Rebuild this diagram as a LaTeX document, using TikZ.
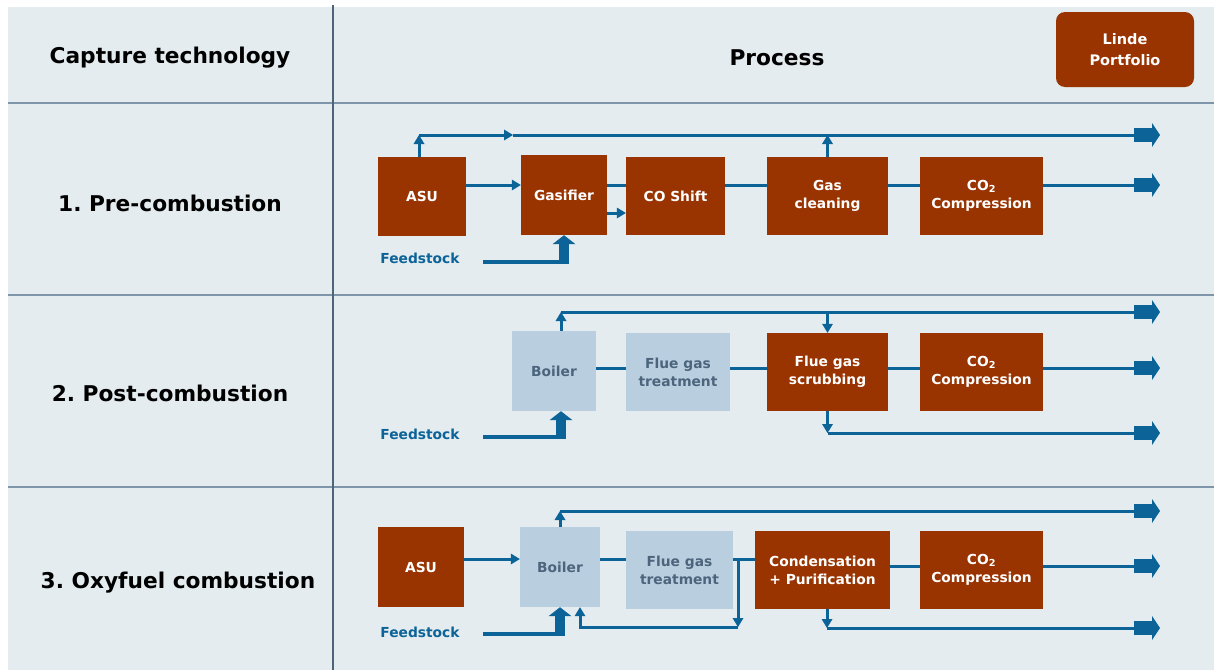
\documentclass[tikz,border=0pt]{standalone}
\usepackage{fontspec}
\setmainfont{DejaVu Sans}
\usetikzlibrary{arrows.meta}
\definecolor{rust}{HTML}{993300}
\definecolor{pale}{HTML}{B9CFE0}
\definecolor{panel}{HTML}{E4ECEF}
\definecolor{flowblue}{HTML}{0B6398}
\definecolor{rulecol}{HTML}{7F95A9}
\definecolor{slate}{HTML}{4D657C}
\frenchspacing

\begin{document}
\begin{tikzpicture}[
    x=1pt,
    y=-1pt,
    >={Triangle[length=9pt,width=11pt,line width=0pt]},
    box/.style={fill=rust,text=white,inner sep=0pt,align=center,
        font=\fontsize{13.8}{18}\selectfont\bfseries},
    lbox/.style={box,fill=pale,text=slate},
    head/.style={font=\fontsize{21.7}{26}\selectfont\bfseries},
    stock/.style={text=flowblue,font=\fontsize{13.8}{17}\selectfont\bfseries},
    flow/.style={draw=flowblue,line width=3pt},
    feed/.style={draw=flowblue,line width=3.8pt},
    feedup/.style={draw=flowblue,line width=10pt,
        -{Triangle[length=9pt,width=23pt,line width=0pt]}},
    fat/.style={-{Rectangle[length=18pt,width=14pt,sep=0pt,line width=0pt]
        Triangle[length=8pt,width=24pt,line width=0pt]}},
    rule/.style={draw=rulecol,line width=2pt}
]
% table
\useasboundingbox (0,0) rectangle (1214,670);
\fill[panel] (8,7) rectangle (1214,670);
\draw[rule] (8,103) -- (1214,103);
\draw[rule] (8,295) -- (1214,295);
\draw[rule] (8,487) -- (1214,487);
\draw[draw=slate,line width=1.8pt] (333,5) -- (333,670);

\node[head] (cap) at (170,58) {Capture technology};
\node[head] (proc) at (777,58) {Process};
\node[box,rounded corners=9pt,minimum width=138pt,minimum height=75pt,
    font=\fontsize{14.5}{21}\selectfont\bfseries] (L) at (1125,49.5) {Linde\\Portfolio};

\node[head] (r1) at (170,203) {1. Pre-combustion};
\node[head] (r2) at (170,393) {2. Post-combustion};
\node[head] (r3) at (178,583) {3. Oxyfuel combustion};

% row 1
\node[box,minimum width=88pt,minimum height=79pt] (A1) at (422,196.5) {ASU};
\node[box,minimum width=86pt,minimum height=80pt] (G1) at (564,195) {Gasifier};
\node[box,minimum width=99pt,minimum height=78pt] (S1) at (675.5,196) {CO Shift};
\node[box,minimum width=121pt,minimum height=78pt] (K1) at (827.5,196) {Gas\\cleaning};
\node[box,minimum width=123pt,minimum height=78pt] (C1) at (981.5,196) {CO\textsubscript{2}\\Compression};
\node[stock] (F1) at (420,258) {Feedstock};

\coordinate (U1) at (419,135);
\coordinate (M1) at (513,135);
\coordinate (E1) at (1160,135);
\coordinate (H1) at (0,185);
\coordinate (L1) at (0,213);
\coordinate (R1) at (1160,185);
\coordinate (Q1) at (483,262);

\draw[flow,->] (U1 |- A1.north) -- (U1);
\draw[flow,->] (U1) -- (M1);
\draw[flow,fat] (M1) -- (E1);
\draw[flow,->] (K1.north) -- (K1.north |- E1);
\draw[flow,->] (A1.east |- H1) -- (G1.west |- H1);
\draw[flow] (G1.east |- H1) -- (S1.west |- H1);
\draw[flow,->] (G1.east |- L1) -- (S1.west |- L1);
\draw[flow] (S1.east |- H1) -- (K1.west |- H1);
\draw[flow] (K1.east |- H1) -- (C1.west |- H1);
\draw[flow,fat] (C1.east |- H1) -- (R1);
\draw[feed] (Q1) -- (G1.south |- Q1);
\draw[feedup] ([yshift=-2pt]G1.south |- Q1) -- (G1.south);

% row 2
\node[lbox,minimum width=84pt,minimum height=80pt] (B2) at (554,371) {Boiler};
\node[lbox,minimum width=104pt,minimum height=78pt] (T2) at (678,372) {Flue gas\\treatment};
\node[box,minimum width=121pt,minimum height=78pt] (W2) at (827.5,372) {Flue gas\\scrubbing};
\node[box,minimum width=123pt,minimum height=78pt] (C2) at (981.5,372) {CO\textsubscript{2}\\Compression};
\node[stock] (F2) at (420,434) {Feedstock};

\coordinate (U2) at (561,312);
\coordinate (E2) at (1160,312);
\coordinate (H2) at (0,368);
\coordinate (R2) at (1160,368);
\coordinate (D2) at (828,433);
\coordinate (S2) at (1160,433);
\coordinate (Q2) at (483,437);

\draw[flow,->] (U2 |- B2.north) -- (U2);
\draw[flow,fat] (U2) -- (E2);
\draw[flow,->] (W2.north |- E2) -- (W2.north);
\draw[flow] (B2.east |- H2) -- (T2.west |- H2);
\draw[flow] (T2.east |- H2) -- (W2.west |- H2);
\draw[flow] (W2.east |- H2) -- (C2.west |- H2);
\draw[flow,fat] (C2.east |- H2) -- (R2);
\draw[flow,->] (W2.south) -- (W2.south |- D2);
\draw[flow,fat] (W2.south |- D2) -- (S2);
\draw[feed] (Q2) -- (U2 |- Q2);
\draw[feedup] ([yshift=-2pt]U2 |- Q2) -- (U2 |- B2.south);

% row 3
\node[box,minimum width=86pt,minimum height=80pt] (A3) at (421,567) {ASU};
\node[lbox,minimum width=80pt,minimum height=80pt] (B3) at (560,567) {Boiler};
\node[lbox,minimum width=107pt,minimum height=78pt] (T3) at (679.5,570) {Flue gas\\treatment};
\node[box,minimum width=135pt,minimum height=78pt] (P3) at (822.5,570) {Condensation\\+ Purification};
\node[box,minimum width=123pt,minimum height=78pt] (C3) at (981.5,570) {CO\textsubscript{2}\\Compression};
\node[stock] (F3) at (420,632) {Feedstock};

\coordinate (U3) at (560,511);
\coordinate (E3) at (1160,511);
\coordinate (H3) at (0,559);
\coordinate (J3) at (0,566);
\coordinate (R3) at (1160,566);
\coordinate (V3) at (738,559);
\coordinate (N3) at (738,627);
\coordinate (Y3) at (580,627);
\coordinate (D3) at (827,628);
\coordinate (S3) at (1160,628);
\coordinate (Q3) at (483,634);

\draw[flow,->] (B3.north) -- (U3);
\draw[flow,fat] (U3) -- (E3);
\draw[flow,->] (A3.east |- H3) -- (B3.west |- H3);
\draw[flow] (B3.east |- H3) -- (T3.west |- H3);
\draw[flow] (T3.east |- H3) -- (P3.west |- H3);
\draw[flow,->] (V3) -- (N3);
\draw[flow,->] (N3) -- (Y3) -- (Y3 |- B3.south);
\draw[flow] (P3.east |- J3) -- (C3.west |- J3);
\draw[flow,fat] (C3.east |- J3) -- (R3);
\draw[flow,->] (D3 |- P3.south) -- (D3);
\draw[flow,fat] (D3) -- (S3);
\draw[feed] (Q3) -- (B3.south |- Q3);
\draw[feedup] ([yshift=-2pt]B3.south |- Q3) -- (B3.south);

\end{tikzpicture}
\end{document}
